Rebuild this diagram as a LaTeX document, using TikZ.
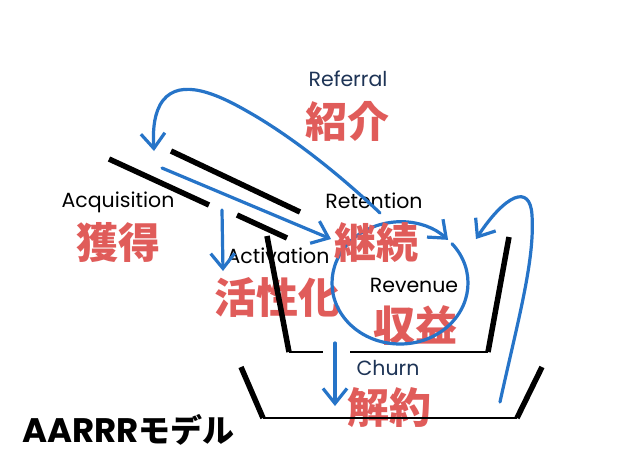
\documentclass[tikz,border=0pt]{standalone}
\usepackage{fontspec}
\usetikzlibrary{arrows.meta}
\newfontfamily\jpfont{Noto Sans CJK JP}
\newfontfamily\latfont{Poppins}
\definecolor{aared}{RGB}{224,92,90}
\definecolor{pen}{RGB}{38,116,200}
\definecolor{navy}{RGB}{30,52,86}
\begin{document}
\begin{tikzpicture}[x=1pt,y=-1pt,
  thick line/.style={line width=5.5pt,black},
  thin line/.style={line width=1.4pt,black},
  penline/.style={line width=3.2pt,pen,line cap=round,line join=round,
    -{Straight Barb[length=15pt,width=24pt,line width=3.2pt]}},
  jptxt/.style={font=\jpfont\bfseries\fontsize{42}{42}\selectfont,text=aared,inner sep=0pt},
  entxt/.style={font=\latfont\fontsize{20.5}{21}\selectfont,inner sep=0pt,anchor=base},
]
\useasboundingbox (0,0) rectangle (638,451);
\fill[white] (0,0) rectangle (638,451);

% text under lines
\node[jptxt] (jref) at (347,121) {紹介};
\node[jptxt] (jacq) at (118,243) {獲得};
\node[jptxt] (jact) at (277,297) {活性化};
\node[jptxt] (jrev) at (415,326) {収益};
\node[jptxt] (jchu) at (389,408) {解約};

\node[entxt,text=navy] (eref) at (348,86) {Referral};
\node[entxt,text=black] (eacq) at (118,207) {Acquisition};
\node[entxt,text=black] (eret) at (374,208) {Retention};
\node[entxt,text=black] (eact) at (278,263) {Activation};
\node[entxt,text=black] (erev) at (414,292) {Revenue};
\node[entxt,text=navy] (echu) at (388,375) {Churn};

\node[anchor=base west,inner sep=0pt,text depth=0pt] (title) at (22,442)
  {\latfont\bfseries\fontsize{34}{34}\selectfont AARRR\jpfont\fontsize{32}{32}\selectfont モデル};

% funnel lines
\coordinate (a1) at (109,159); \coordinate (a2) at (209,205);
\coordinate (b1) at (171,151); \coordinate (b2) at (300,212);
\coordinate (c1) at (237,215); \coordinate (c2) at (287,238);
\coordinate (d1) at (267,236); \coordinate (d2) at (289,352);
\coordinate (d3) at (323,352); \coordinate (d4) at (350,352);
\coordinate (e1) at (488,352); \coordinate (e2) at (509,237);
\coordinate (f1) at (241,367); \coordinate (f2) at (263,418);
\coordinate (f3) at (517,418); \coordinate (f4) at (542,367);

\draw[thick line] (a1) -- (a2);
\draw[thick line] (b1) -- (b2);
\draw[thick line] (c1) -- (c2);
\draw[thick line] (d1) -- (d2);
\draw[thick line] (e1) -- (e2);
\draw[thick line] (f1) -- (f2);
\draw[thick line] (f3) -- (f4);
\draw[thin line] (d2) -- (d3);
\draw[thin line] (d4) -- (e1);
\draw[thin line] (f2) -- (f3);

% blue pen arrows
\coordinate (rs) at (380,213);
\coordinate (rm) at (245,110);
\coordinate (rt) at (160,105);
\coordinate (re) at (154,151);
\draw[penline] (rs) .. controls (340,175) and (290,135) .. (rm)
  .. controls (210,90) and (175,78) .. (rt)
  .. controls (153,118) and (153,135) .. (re);

\coordinate (qs) at (162,168);
\coordinate (qe) at (331,239);
\draw[penline] (qs) -- (qe);

\coordinate (vs) at (222,210);
\coordinate (ve) at (223,271);
\draw[penline] (vs) -- (ve);

\coordinate (cc) at (400,283);
\draw[penline] (cc) ++(-40:68 and 61) arc[start angle=-40,end angle=315,x radius=68,y radius=61];

\coordinate (ks) at (335,343);
\coordinate (ke) at (335,406);
\draw[penline] (ks) -- (ke);

\coordinate (ws) at (500,402);
\coordinate (wt) at (532,215);
\coordinate (we) at (476,239);
\draw[penline] (ws) .. controls (518,320) and (535,260) .. (wt)
  .. controls (530,183) and (505,195) .. (we);

% text over the circle top
\node[jptxt] (jret) at (376,243) {継続};
\end{tikzpicture}
\end{document}
